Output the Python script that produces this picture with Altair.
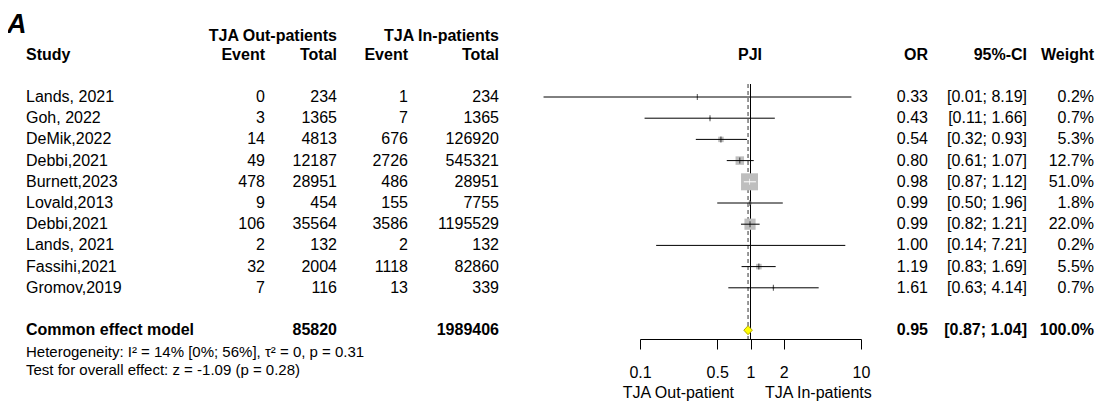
import math
import altair as alt
import pandas as pd

# ---------------- data ----------------
study = ["Lands, 2021", "Goh, 2022", "DeMik,2022", "Debbi,2021", "Burnett,2023",
         "Lovald,2013", "Debbi,2021", "Lands, 2021", "Fassihi,2021", "Gromov,2019"]
out_event = [0, 3, 14, 49, 478, 9, 106, 2, 32, 7]
out_total = [234, 1365, 4813, 12187, 28951, 454, 35564, 132, 2004, 116]
in_event = [1, 7, 676, 2726, 486, 155, 3586, 2, 1118, 13]
in_total = [234, 1365, 126920, 545321, 28951, 7755, 1195529, 132, 82860, 339]
or_est = [0.33, 0.43, 0.54, 0.80, 0.98, 0.99, 0.99, 1.00, 1.19, 1.61]
ci_low = [0.0134, 0.11, 0.32, 0.61, 0.87, 0.50, 0.82, 0.14, 0.83, 0.63]
ci_high = [8.19, 1.66, 0.93, 1.07, 1.12, 1.96, 1.21, 7.21, 1.69, 4.14]
weight = [0.2, 0.7, 5.3, 12.7, 51.0, 1.8, 22.0, 0.2, 5.5, 0.7]

common_label = "Common effect model"
common_out_total = 85820
common_in_total = 1989406
common_or = 0.95
common_low = 0.87
common_high = 1.04
common_weight = 100.0
ref_value = 1.0

tick_values = [0.1, 0.5, 1, 2, 10]
het_text = "Heterogeneity: I² = 14% [0%; 56%], τ² = 0, p = 0.31"
test_text = "Test for overall effect: z = -1.09 (p = 0.28)"

# ---------------- layout ----------------
F = "Liberation Sans"
FS = 16
W, H = 1088, 393
X_RANGE = [632, 853]
Y_RANGE = [89, 322.2]
COMMON_ROW = 11
SQ_MAX_AREA = 289
MAX_W = max(weight)

n = len(study)
df = pd.DataFrame({
    "row": list(range(n)),
    "study": study,
    "oe": [str(v) for v in out_event],
    "ot": [str(v) for v in out_total],
    "ie": [str(v) for v in in_event],
    "it": [str(v) for v in in_total],
    "est": or_est,
    "lo": ci_low,
    "hi": ci_high,
    "weight": weight,
    "or_txt": [f"{v:.2f}" for v in or_est],
    "ci_txt": [f"[{a:.2f}; {b:.2f}]" for a, b in zip(ci_low, ci_high)],
    "w_txt": [f"{v:.1f}%" for v in weight],
})
px_dec = (X_RANGE[1] - X_RANGE[0]) / 2.0
half_side = [math.sqrt(SQ_MAX_AREA * w / MAX_W) / 2 for w in weight]
df["inside"] = [
    max(px_dec * math.log10(e / l), px_dec * math.log10(h / e)) <= hs
    for e, l, h, hs in zip(or_est, ci_low, ci_high, half_side)
]
df_out = df[~df["inside"]]
df_in = df[df["inside"]]

common_df = pd.DataFrame({
    "row": [COMMON_ROW],
    "label": [common_label],
    "ot": [str(common_out_total)],
    "it": [str(common_in_total)],
    "or_txt": [f"{common_or:.2f}"],
    "ci_txt": [f"[{common_low:.2f}; {common_high:.2f}]"],
    "w_txt": [f"{common_weight:.1f}%"],
})

dh = 4.5 / ((Y_RANGE[1] - Y_RANGE[0]) / COMMON_ROW)
diamond_df = pd.DataFrame({
    "x": [common_low, common_or, common_high],
    "y": [COMMON_ROW, COMMON_ROW - dh, COMMON_ROW],
    "y2": [COMMON_ROW, COMMON_ROW + dh, COMMON_ROW],
})

xscale = alt.Scale(type="log", domain=[0.1, 10], range=X_RANGE, nice=False)
yscale = alt.Scale(domain=[0, COMMON_ROW], range=Y_RANGE, nice=False, zero=False)
xaxis = alt.Axis(values=tick_values, format="~g", orient="bottom", offset=331 - H,
                 tickSize=10, tickColor="black", domainColor="black", labelColor="black",
                 labelFont=F, labelFontSize=FS, labelPadding=15, title=None, grid=False,
                 labelFlush=False, labelOverlap=False, domainWidth=1, tickWidth=1)


def X(field):
    return alt.X(field, scale=xscale, axis=xaxis)


def Y(field="row:Q"):
    return alt.Y(field, scale=yscale, axis=None)


ref_df = pd.DataFrame({"v": [ref_value]})
comm_line_df = pd.DataFrame({"v": [common_or]})

solid = alt.Chart(ref_df).mark_rule(color="black", strokeWidth=1).encode(
    x=X("v:Q"), y=alt.value(76), y2=alt.value(331))
dashed = alt.Chart(comm_line_df).mark_rule(color="#333333", strokeWidth=1, strokeDash=[4, 3]).encode(
    x=X("v:Q"), y=alt.value(76), y2=alt.value(331))

squares = alt.Chart(df).mark_square(color="#BEBEBE", opacity=1, strokeWidth=0).encode(
    x=X("est:Q"), y=Y(),
    size=alt.Size("weight:Q", scale=alt.Scale(domain=[0, MAX_W], range=[0, SQ_MAX_AREA]), legend=None))

ci_black = alt.Chart(df_out).mark_rule(color="black", strokeWidth=1).encode(
    x=X("lo:Q"), x2="hi:Q", y=Y())
tick_black = alt.Chart(df_out).mark_tick(orient="vertical", size=6, thickness=1, color="black").encode(
    x=X("est:Q"), y=Y())
ci_white = alt.Chart(df_in).mark_rule(color="white", strokeWidth=1).encode(
    x=X("lo:Q"), x2="hi:Q", y=Y())
tick_white = alt.Chart(df_in).mark_tick(orient="vertical", size=6, thickness=1, color="white").encode(
    x=X("est:Q"), y=Y())

diamond = alt.Chart(diamond_df).mark_area(orient="vertical", color="#FFFF00", fill="#FFFF00",
                                          stroke="#B5A800", strokeWidth=1, opacity=1).encode(
    x=X("x:Q"), y=Y("y:Q"), y2="y2:Q")


def col(data, field, px, align, bold=False, size=FS):
    return alt.Chart(data).mark_text(
        align=align, baseline="middle", font=F, fontSize=size,
        fontWeight="bold" if bold else "normal", color="black").encode(
        x=alt.value(px), y=Y(), text=f"{field}:N")


def label(s, px, py, align, bold=False, size=FS, italic=False, baseline="middle"):
    return alt.Chart(pd.DataFrame({"t": [s]})).mark_text(
        align=align, baseline=baseline, font=F, fontSize=size,
        fontWeight="bold" if bold else "normal",
        fontStyle="italic" if italic else "normal", color="black").encode(
        x=alt.value(px), y=alt.value(py), text="t:N")


texts = [
    col(df, "study", 18, "left"),
    col(df, "oe", 257, "right"),
    col(df, "ot", 329, "right"),
    col(df, "ie", 400, "right"),
    col(df, "it", 491, "right"),
    col(df, "or_txt", 920, "right"),
    col(df, "ci_txt", 1019, "right"),
    col(df, "w_txt", 1086, "right"),
    col(common_df, "label", 18, "left", bold=True),
    col(common_df, "ot", 329, "right", bold=True),
    col(common_df, "it", 491, "right", bold=True),
    col(common_df, "or_txt", 920, "right", bold=True),
    col(common_df, "ci_txt", 1019, "right", bold=True),
    col(common_df, "w_txt", 1086, "right", bold=True),
    label("A", -1, 25, "left", bold=True, size=27, italic=True, baseline="alphabetic"),
    label("TJA Out-patients", 329, 28, "right", bold=True),
    label("TJA In-patients", 491, 28, "right", bold=True),
    label("Study", 18, 47, "left", bold=True),
    label("Event", 257, 47, "right", bold=True),
    label("Total", 329, 47, "right", bold=True),
    label("Event", 400, 47, "right", bold=True),
    label("Total", 491, 47, "right", bold=True),
    label("PJI", 742, 47, "center", bold=True),
    label("OR", 920, 47, "right", bold=True),
    label("95%-CI", 1019, 47, "right", bold=True),
    label("Weight", 1086, 47, "right", bold=True),
    label(het_text, 18, 344, "left", size=15),
    label(test_text, 18, 362, "left", size=15),
    label("TJA Out-patient", 726, 385, "right"),
    label("TJA In-patients", 757, 385, "left"),
]

chart = alt.layer(
    solid, dashed, squares, ci_black, tick_black, ci_white, tick_white, diamond, *texts
).properties(
    width=W, height=H, padding=0, autosize=alt.AutoSizeParams(type="none"),
    background="white"
).configure_view(stroke=None)

chart.save("out.html", embed_options={"renderer": "svg", "actions": False})
